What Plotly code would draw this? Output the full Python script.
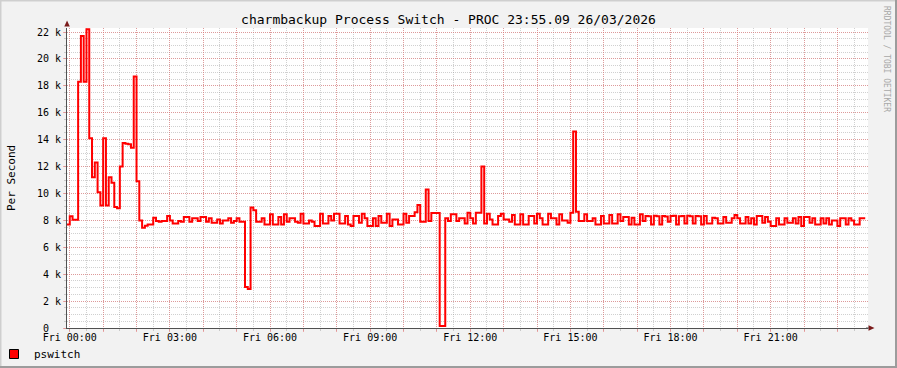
import plotly.graph_objects as go

# ---------------- data ----------------
TITLE = "charmbackup Process Switch - PROC 23:55.09 26/03/2026"
Y_TITLE = "Per Second"
SERIES_NAME = "pswitch"
WATERMARK = "RRDTOOL / TOBI OETIKER"

START_MIN = -5      # first sample starts Thu 23:55
STEP_MIN = 5        # 5-minute samples

PSWITCH = [
    7700, 8300, 8050, 8050, 18300, 21700, 18300, 22200, 14100, 11200,
    12300, 10100, 9100, 14100, 9100, 11200, 10800, 9000, 8900, 12000,
    13750, 13700, 13650, 13400, 18700, 10900, 8000, 7450, 7600, 7700,
    7700, 8200, 7950, 7900, 7950, 7950, 8330, 8000, 7760, 7760,
    7950, 7900, 8250, 8250, 7900, 8150, 8150, 7950, 8250, 8250,
    7900, 8150, 7830, 7830, 8070, 7760, 8000, 8000, 8150, 7830,
    7950, 8150, 7900, 7900, 3050, 2900, 8950, 8750, 7900, 7900,
    8150, 7700, 7700, 8450, 7700, 7700, 8250, 7700, 8450, 7900,
    8150, 8150, 7900, 7830, 8500, 7760, 7760, 8000, 7900, 7580,
    7580, 8500, 7760, 7760, 8330, 8000, 8500, 8500, 7760, 7760,
    8330, 7700, 7580, 8330, 8330, 7830, 8500, 8150, 7580, 7580,
    8150, 7580, 8330, 7830, 7830, 8500, 7580, 8070, 8070, 7700,
    7700, 8500, 7830, 8330, 8330, 8600, 9150, 7900, 7900, 10300,
    7950, 8550, 8550, 8550, 150, 150, 8150, 7950, 8450, 8450,
    7950, 8150, 8150, 7760, 8570, 8150, 7760, 8570, 8570, 12000,
    7760, 8500, 8070, 7700, 7700, 8330, 8500, 8070, 8070, 7900,
    8400, 7700, 7700, 8450, 7700, 7700, 8330, 8330, 7760, 8500,
    8150, 7700, 7700, 8500, 8150, 8150, 7700, 8450, 8000, 8000,
    7830, 8570, 14600, 8650, 7950, 7950, 8450, 7950, 7950, 8150,
    7700, 7700, 8330, 7760, 7760, 8400, 7760, 7760, 8450, 7950,
    8250, 8250, 7700, 8200, 7700, 7700, 8450, 7950, 8330, 8300,
    7700, 8350, 8300, 7700, 8330, 8280, 7900, 8330, 8350, 7700,
    8300, 8330, 7760, 8350, 8300, 7760, 8330, 8300, 7700, 8330,
    7760, 7760, 8200, 8150, 7760, 7760, 8250, 7830, 7830, 8150,
    8400, 8150, 7760, 7760, 8250, 7760, 8150, 7700, 8330, 8330,
    7830, 8250, 7900, 7580, 7580, 8150, 7700, 7700, 8150, 7830,
    7830, 8150, 7760, 8250, 7580, 8250, 8250, 7830, 8150, 7700,
    7700, 8150, 7760, 8150, 7700, 8000, 8000, 7580, 8150, 8150,
    7700, 8150, 8000, 7700, 7700, 8150, 8150,
]

X_TICK_HOURS = [0, 3, 6, 9, 12, 15, 18, 21]
X_TICK_LABELS = ["Fri 00:00", "Fri 03:00", "Fri 06:00", "Fri 09:00",
                 "Fri 12:00", "Fri 15:00", "Fri 18:00", "Fri 21:00"]
Y_TICK_VALUES = [0, 2000, 4000, 6000, 8000, 10000, 12000, 14000,
                 16000, 18000, 20000, 22000]
Y_TICK_LABELS = ["0\u00a0\u00a0", "2 k", "4 k", "6 k", "8 k", "10 k", "12 k",
                 "14 k", "16 k", "18 k", "20 k", "22 k"]

X_RANGE_HOURS = [-5 / 60, 23 + 55 / 60]
Y_MAX = 22300

# ---------------- layout constants ----------------
W, H = 897, 368
ML, MR, MT, MB = 67, 29, 28, 40
PW, PH = W - ML - MR, H - MT - MB
FONT = "DejaVu Sans Mono"
MGRID = "rgba(232,110,110,0.55)"
GRID = "rgba(150,150,150,0.45)"
ARROW = "#7a1a1a"


def px_x(X):
    return (X - ML) / PW


def px_y(Y):
    return (H - MB - Y) / PH


# sample start times (hours) and the step line
times = [(START_MIN + i * STEP_MIN) / 60 for i in range(len(PSWITCH))]
end_time = (START_MIN + len(PSWITCH) * STEP_MIN) / 60
xs = times + [end_time]
ys = PSWITCH + [PSWITCH[-1]]

fig = go.Figure()
fig.add_trace(go.Scatter(
    x=xs, y=ys, mode="lines", line=dict(color="#ff0000", width=2, shape="hv"),
    showlegend=False, hoverinfo="skip",
))
fig.add_trace(go.Scatter(
    x=[None], y=[None], mode="markers", name=SERIES_NAME,
    marker=dict(symbol="square", size=9, color="#ff0000",
                line=dict(color="#000000", width=1)),
))

major_hours = list(range(0, 24))
label_map = dict(zip(X_TICK_HOURS, X_TICK_LABELS))
major_text = [label_map.get(h, "") for h in major_hours]

fig.update_xaxes(
    range=X_RANGE_HOURS, tickmode="array", tickvals=major_hours, ticktext=major_text,
    showgrid=True, gridcolor=MGRID, griddash="1px,1px", gridwidth=1,
    ticks="outside", ticklen=3, tickcolor=MGRID, ticklabelstandoff=-3,
    minor=dict(dtick=0.5, tick0=0, showgrid=True, gridcolor=GRID, griddash="1px,1px",
               ticks="outside", ticklen=2, tickcolor=GRID),
    showline=True, linecolor="#505050", linewidth=1,
    zeroline=False, tickfont=dict(family=FONT, size=10, color="#000"),
    fixedrange=True,
)
fig.update_yaxes(
    range=[0, Y_MAX], tickmode="array", tickvals=Y_TICK_VALUES, ticktext=Y_TICK_LABELS,
    showgrid=True, gridcolor=MGRID, griddash="1px,1px", gridwidth=1,
    ticks="outside", ticklen=3, tickcolor=MGRID,
    minor=dict(dtick=500, tick0=0, showgrid=True, gridcolor=GRID, griddash="1px,1px",
               ticks="outside", ticklen=2, tickcolor=GRID),
    showline=True, linecolor="#505050", linewidth=1,
    zeroline=False, tickfont=dict(family=FONT, size=10, color="#000"),
    title=dict(text=Y_TITLE, font=dict(family=FONT, size=11, color="#000"), standoff=19),
    fixedrange=True,
)

shapes = []
# axis arrows
shapes.append(dict(type="path", xref="paper", yref="paper",
                   path=f"M {px_x(64.3)} {px_y(26.5)} L {px_x(69.8)} {px_y(26.5)} L {px_x(67.05)} {px_y(20.5)} Z",
                   fillcolor=ARROW, line=dict(width=0), layer="above"))
shapes.append(dict(type="path", xref="paper", yref="paper",
                   path=f"M {px_x(868.5)} {px_y(325.2)} L {px_x(868.5)} {px_y(330.8)} L {px_x(874.5)} {px_y(328)} Z",
                   fillcolor=ARROW, line=dict(width=0), layer="above"))
shapes.append(dict(type="line", xref="paper", yref="paper",
                   x0=px_x(866), x1=px_x(869), y0=0, y1=0,
                   line=dict(color="#505050", width=1)))
# page frame (light top/left, darker bottom/right)
shapes.append(dict(type="line", xref="paper", yref="paper", x0=px_x(0), x1=px_x(W),
                   y0=px_y(0.5), y1=px_y(0.5), line=dict(color="#cfcfcf", width=2)))
shapes.append(dict(type="line", xref="paper", yref="paper", x0=px_x(0.5), x1=px_x(0.5),
                   y0=px_y(0), y1=px_y(H), line=dict(color="#cfcfcf", width=2)))
shapes.append(dict(type="line", xref="paper", yref="paper", x0=px_x(0), x1=px_x(W),
                   y0=px_y(H - 1), y1=px_y(H - 1), line=dict(color="#9c9c9c", width=2)))
shapes.append(dict(type="line", xref="paper", yref="paper", x0=px_x(W - 1), x1=px_x(W - 1),
                   y0=px_y(0), y1=px_y(H), line=dict(color="#9c9c9c", width=2)))

fig.update_layout(
    width=W, height=H, margin=dict(l=ML, r=MR, t=MT, b=MB, autoexpand=False),
    paper_bgcolor="#f2f2f2", plot_bgcolor="#ffffff",
    title=dict(text=TITLE, x=0.5, xanchor="center", y=1 - 19 / H, yanchor="middle",
               yref="container", font=dict(family=FONT, size=13, color="#000")),
    showlegend=True,
    legend=dict(x=px_x(-6), y=px_y(354), xanchor="left", yanchor="middle",
                bgcolor="rgba(0,0,0,0)", font=dict(family=FONT, size=11, color="#000"),
                itemclick=False, itemdoubleclick=False),
    shapes=shapes,
    annotations=[dict(text=WATERMARK, xref="paper", yref="paper", x=px_x(886), y=px_y(4),
                      xanchor="center", yanchor="top", textangle=90, showarrow=False,
                      font=dict(family=FONT, size=8, color="#a8a8a8"))],
)

fig.write_html("out.html", config=dict(displayModeBar=False, staticPlot=True))
